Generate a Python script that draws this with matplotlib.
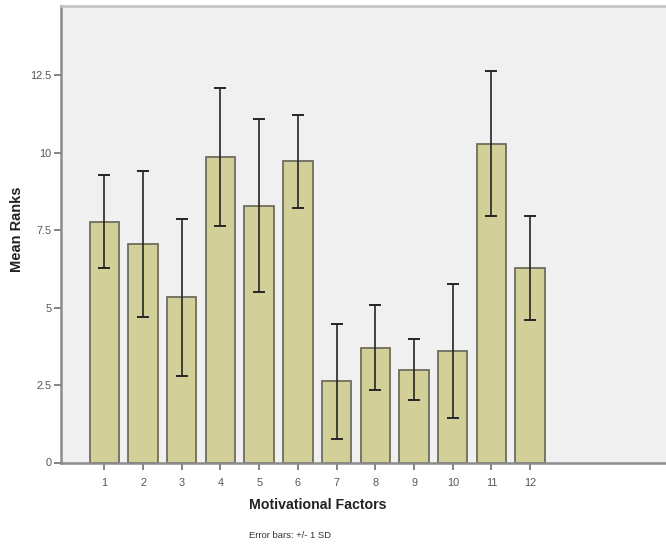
import matplotlib
matplotlib.use("Agg")
import matplotlib.pyplot as plt
import numpy as np

categories = ["1", "2", "3", "4", "5", "6", "7", "8", "9", "10", "11", "12"]
means = [7.77, 7.05, 5.33, 9.85, 8.29, 9.72, 2.62, 3.71, 3.00, 3.60, 10.29, 6.28]
sds = [1.50, 2.35, 2.53, 2.23, 2.80, 1.50, 1.86, 1.36, 0.99, 2.17, 2.35, 1.69]
yticks = [0, 2.5, 5, 7.5, 10, 12.5]
ytick_labels = ["0", "2.5", "5", "7.5", "10", "12.5"]

plt.rcParams['font.family'] = ['Liberation Sans', 'DejaVu Sans']

fig = plt.figure(figsize=(6.66, 5.47), dpi=100)
fig.patch.set_facecolor("white")
ax = fig.add_axes([61/666, (547-462.5)/547, 605/666, 457/547])
ax.set_facecolor("#f0f0f0")

x = np.arange(1, len(categories) + 1)
ax.bar(x, means, width=0.76, color="#d3cf98", edgecolor="#6e6e5e", linewidth=1.3, zorder=2)
ax.errorbar(x, means, yerr=sds, fmt="none", ecolor="#252525", elinewidth=1.2,
            capsize=4.3, capthick=1.4, zorder=3)

ax.set_xlim(-0.12, 15.51)
ax.set_ylim(0, 14.75)
ax.set_xticks(x)
ax.set_xticklabels(categories)
ax.set_yticks(yticks)
ax.set_yticklabels(ytick_labels)

for s in ["left", "bottom", "top"]:
    ax.spines[s].set_color("#8c8c8c")
    ax.spines[s].set_linewidth(1.8)
ax.spines["top"].set_color("#c0c0c0")
ax.spines["right"].set_visible(False)

ax.tick_params(axis="both", colors="#707070", labelcolor="#555555", labelsize=7.8,
               length=5, width=1.2, direction="out")
ax.tick_params(axis="x", pad=6)
ax.tick_params(axis="y", pad=2)

fig.text(17/666, 1 - 229/547, "Mean Ranks", rotation=90, fontsize=10.5, fontweight="bold",
         ha="center", va="center", color="#222222")
fig.text(318/666, 1 - 505/547, "Motivational Factors", fontsize=10.2, fontweight="bold",
         ha="center", va="center", color="#222222")
fig.text(290/666, 1 - 535/547, "Error bars: +/- 1 SD", fontsize=6.8,
         ha="center", va="center", color="#333333")

fig.savefig("out.png", dpi=100)
